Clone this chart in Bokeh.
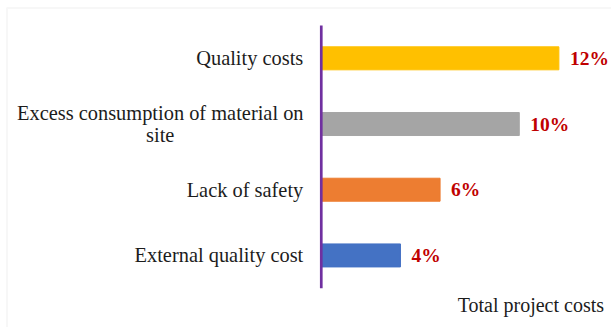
from bokeh.plotting import figure
from bokeh.models import ColumnDataSource, Range1d, BoxAnnotation, Label
from bokeh.core.properties import value
from bokeh.embed import file_html
from bokeh.resources import INLINE

# ---- data ----
categories = ["Quality costs", "Excess consumption of material on\nsite", "Lack of safety", "External quality cost"]
values = [12, 10, 6, 4]
value_labels = ["12%", "10%", "6%", "4%"]
bar_colors = ["#FFC000", "#A5A5A5", "#ED7D31", "#4472C4"]
x_title = "Total project costs"

n = len(categories)
ypos = [n - 1 - i for i in range(n)]  # top to bottom

W, H = 611, 327
p = figure(width=W, height=H, output_backend="svg", toolbar_location=None,
           x_range=Range1d(-16.2, 14.657), y_range=Range1d(-1.097, 3.88),
           min_border_left=0, min_border_right=0, min_border_top=0, min_border_bottom=0)
p.axis.visible = False
p.grid.visible = False
p.outline_line_color = None
p.background_fill_color = "white"
p.border_fill_color = "white"

# light grey frame of the original image
p.add_layout(BoxAnnotation(left=-15.87, right=30, top=3.766, bottom=-5,
                           fill_alpha=0, line_color="#e4e4e4", line_width=2))

src = ColumnDataSource(dict(y=ypos, v=values, cat=categories, lab=value_labels, color=bar_colors,
                            align=["center" if "\n" in c else "right" for c in categories],
                            xoff=[-161 if "\n" in c else -18 for c in categories]))

p.hbar(y="y", left=0, right="v", height=0.35, color="color", source=src)

# vertical axis line
p.segment(x0=0, y0=-0.5, x1=0, y1=n - 0.5, line_color="#7030A0", line_width=2.7)

# category labels
p.text(x=0, y="y", text="cat", x_offset="xoff", text_align="align", text_baseline="middle",
       text_font=value("Liberation Serif"), text_font_size="20.4px", text_color="#1c1c1c",
       text_line_height=1.0, source=src)

# value labels
p.text(x="v", y="y", text="lab", x_offset=11, text_align="left", text_baseline="middle",
       text_font=value("Liberation Serif"), text_font_style="bold", text_font_size="19.5px",
       text_color="#C00000", source=src)

p.add_layout(Label(x=14.28, y=-0.762, text=x_title, text_align="right", text_baseline="alphabetic",
                   text_font="Liberation Serif", text_font_size="20px", text_color="#1c1c1c"))

open("out.html", "w").write(file_html(p, INLINE))
